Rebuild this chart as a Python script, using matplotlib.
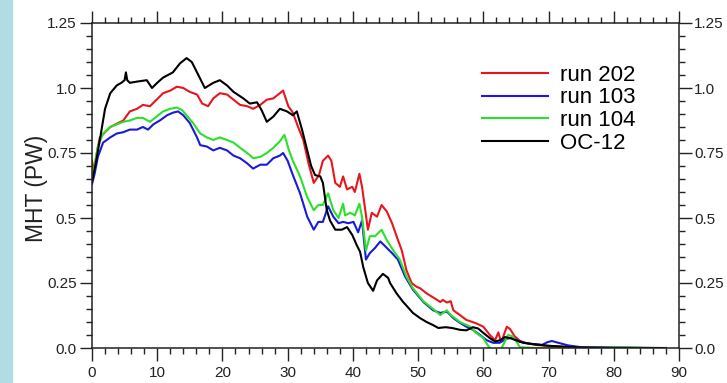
import matplotlib.pyplot as plt
from matplotlib.patches import Rectangle
from matplotlib.ticker import MultipleLocator

plt.rcParams['font.family'] = ['Liberation Sans', 'DejaVu Sans']

# latitude (deg N) and MHT (PW)
lat_202 = [0, 0.3, 0.8, 1.2, 2.8, 4.8, 5.8, 6.9, 7.8, 8.9, 9.9, 10.9, 12.0, 13.0, 14.0, 15.0,
           16.1, 16.9, 17.8, 18.6, 19.6, 20.7, 21.7, 22.7, 23.8, 24.7, 25.8, 26.8, 27.8, 28.8,
           29.3, 30.1, 30.8, 31.6, 32.4, 33.2, 34.0, 34.8, 35.4, 36.2, 36.7, 37.3, 38.0, 38.5,
           39.1, 39.9, 40.3, 41.0, 41.4, 41.9, 42.3, 42.9, 43.7, 44.4, 45.2, 46.0, 46.7, 47.5,
           48.2, 49.0, 49.8, 50.3, 51.3, 52.6, 53.4, 53.8, 54.4, 55.0, 55.4, 56.4, 57.4, 58.9,
           60.0, 61.0, 61.8, 62.3, 62.7, 63.0, 63.6, 64.1, 64.8, 65.6, 66.5, 68, 70, 73, 76, 80, 86]
mht_202 = [0.72, 0.68, 0.76, 0.81, 0.85, 0.875, 0.91, 0.92, 0.935, 0.93, 0.955, 0.98, 0.99, 1.005,
           1.0, 0.985, 0.975, 0.94, 0.93, 0.96, 0.98, 0.975, 0.955, 0.935, 0.93, 0.92, 0.935,
           0.955, 0.96, 0.98, 0.99, 0.93, 0.905, 0.85, 0.80, 0.71, 0.635, 0.665, 0.72, 0.74, 0.72,
           0.635, 0.62, 0.66, 0.61, 0.62, 0.60, 0.67, 0.62, 0.53, 0.455, 0.52, 0.505, 0.55, 0.525,
           0.48, 0.43, 0.375, 0.30, 0.25, 0.235, 0.23, 0.21, 0.19, 0.177, 0.185, 0.175, 0.18,
           0.145, 0.127, 0.108, 0.095, 0.082, 0.05, 0.03, 0.06, 0.025, 0.04, 0.082, 0.073, 0.045,
           0.028, 0.019, 0.012, 0.008, 0.004, 0.001, 0.0, 0.0]

lat_103 = [0, 0.4, 0.9, 1.7, 2.8, 3.8, 4.8, 5.8, 6.9, 7.8, 8.6, 9.4, 10.4, 11.5, 12.4, 13.2, 14.0,
           15.0, 16.1, 16.6, 17.6, 18.6, 19.6, 20.7, 21.7, 22.7, 23.8, 24.7, 25.8, 26.8, 27.8,
           28.8, 29.3, 30.0, 30.8, 31.9, 33.0, 34.0, 34.7, 35.4, 36.2, 37.0, 37.8, 38.5, 39.3,
           40.1, 40.8, 41.4, 42.0, 42.6, 43.4, 44.2, 45.0, 46.0, 46.9, 48.0, 49.2, 50.8, 52.3,
           53.4, 54.4, 55.4, 56.4, 57.4, 58.4, 59.5, 60.5, 61.5, 62.5, 63.5, 64.5, 65.5, 67, 69,
           69.8, 70.5, 71.5, 73, 75, 80, 87]
mht_103 = [0.63, 0.67, 0.735, 0.79, 0.81, 0.825, 0.83, 0.84, 0.84, 0.85, 0.84, 0.86, 0.875, 0.895,
           0.905, 0.91, 0.895, 0.865, 0.81, 0.78, 0.775, 0.76, 0.77, 0.76, 0.74, 0.73, 0.71, 0.69,
           0.705, 0.705, 0.73, 0.74, 0.75, 0.72, 0.665, 0.595, 0.505, 0.455, 0.485, 0.485, 0.545,
           0.505, 0.48, 0.485, 0.48, 0.485, 0.445, 0.49, 0.34, 0.365, 0.385, 0.41, 0.39, 0.365,
           0.34, 0.275, 0.225, 0.177, 0.145, 0.135, 0.14, 0.115, 0.097, 0.082, 0.07, 0.05, 0.03,
           0.02, 0.02, 0.035, 0.04, 0.025, 0.017, 0.012, 0.022, 0.027, 0.02, 0.01, 0.003, 0.001, 0.0]

lat_104 = [0, 0.4, 0.9, 1.7, 2.8, 3.8, 4.8, 5.8, 6.9, 7.8, 8.9, 9.9, 10.9, 12.0, 13.0, 13.8, 14.5,
           15.5, 16.6, 17.6, 18.6, 19.6, 20.7, 21.7, 22.7, 23.8, 24.7, 25.8, 26.8, 27.8, 28.8,
           29.5, 30.2, 30.8, 31.9, 33.0, 34.0, 34.7, 35.4, 36.2, 37.0, 37.8, 38.5, 38.8, 39.6,
           40.3, 41.0, 41.4, 42.0, 42.6, 43.4, 44.4, 45.2, 46.2, 47.2, 48.2, 49.2, 50.8, 52.3,
           53.4, 54.4, 55.0, 56.4, 58.0, 58.9, 60.0, 60.7, 61.3, 62.0, 62.6, 63.3, 63.8, 64.5,
           65.2, 65.6, 68, 75, 82, 86]
mht_104 = [0.66, 0.70, 0.775, 0.825, 0.85, 0.86, 0.87, 0.875, 0.885, 0.885, 0.87, 0.89, 0.91, 0.92,
           0.925, 0.915, 0.895, 0.865, 0.825, 0.81, 0.80, 0.81, 0.80, 0.79, 0.77, 0.75, 0.73,
           0.735, 0.75, 0.77, 0.795, 0.82, 0.76, 0.72, 0.66, 0.58, 0.53, 0.55, 0.55, 0.595, 0.53,
           0.50, 0.555, 0.51, 0.52, 0.51, 0.555, 0.505, 0.375, 0.43, 0.43, 0.455, 0.415, 0.375,
           0.34, 0.275, 0.23, 0.18, 0.15, 0.127, 0.145, 0.127, 0.10, 0.082, 0.058, 0.038, 0.01,
           -0.008, -0.005, -0.01, 0.025, 0.05, 0.045, 0.02, 0.003, 0.0, 0.0, 0.002, 0.0]

lat_oc = [0, 0.5, 1.2, 2.0, 2.8, 3.8, 4.5, 5.0, 5.2, 5.4, 5.8, 7.0, 8.4, 9.2, 10.0, 10.9, 12.4,
          13.5, 14.5, 15.3, 16.3, 17.3, 18.6, 19.6, 20.7, 21.7, 23.2, 24.2, 25.3, 26.0, 26.8,
          27.8, 28.8, 29.9, 30.8, 31.4, 32.2, 33.0, 33.6, 34.2, 35.0, 35.4, 36.0, 36.5, 37.3,
          38.3, 39.1, 39.9, 40.6, 41.1, 41.6, 42.3, 43.1, 43.7, 44.6, 45.4, 45.7, 46.7, 47.7,
          48.5, 49.2, 50.3, 51.3, 52.3, 53.1, 54.2, 55.2, 56.4, 57.4, 58.4, 59.2, 60.0, 61.0,
          61.8, 62.6, 63.3, 64.1, 65.2, 66.1, 67.6, 69.8, 72.3, 74.8, 80, 85, 88]
mht_oc = [0.64, 0.70, 0.80, 0.92, 0.98, 1.01, 1.02, 1.03, 1.06, 1.03, 1.02, 1.025, 1.03, 1.0, 1.02,
          1.04, 1.06, 1.095, 1.115, 1.10, 1.05, 1.0, 1.02, 1.03, 1.01, 0.985, 0.96, 0.94, 0.945,
          0.915, 0.87, 0.89, 0.92, 0.91, 0.895, 0.91, 0.84, 0.76, 0.70, 0.665, 0.66, 0.635, 0.53,
          0.49, 0.455, 0.455, 0.465, 0.435, 0.395, 0.37, 0.31, 0.25, 0.22, 0.26, 0.285, 0.27,
          0.25, 0.21, 0.177, 0.155, 0.135, 0.115, 0.10, 0.088, 0.077, 0.08, 0.077, 0.07, 0.068,
          0.08, 0.075, 0.058, 0.038, 0.025, 0.03, 0.042, 0.038, 0.028, 0.02, 0.015, 0.009, 0.005,
          0.002, 0.001, 0.0, 0.0]

xticks = [0, 10, 20, 30, 40, 50, 60, 70, 80, 90]
yticks = [0.0, 0.25, 0.5, 0.75, 1.0, 1.25]
ytick_labels = ['0.0', '0.25', '0.5', '0.75', '1.0', '1.25']

fig = plt.figure(figsize=(7.27, 3.83), dpi=100)
fig.patches.append(Rectangle((0, 0), 12 / 727, 1, transform=fig.transFigure,
                             color='#b2dce3', zorder=0))
ax = fig.add_axes([92 / 727, 35 / 383, 587 / 727, 325 / 383])

ax.plot(lat_202, mht_202, color='#e8161c', lw=1.5, label='run 202')
ax.plot(lat_103, mht_103, color='#1a1ad8', lw=1.5, label='run 103')
ax.plot(lat_104, mht_104, color='#2be02b', lw=1.5, label='run 104')
ax.plot(lat_oc, mht_oc, color='black', lw=1.5, label='OC-12')

ax.set_xlim(0, 90)
ax.set_ylim(0, 1.25)
ax.set_xticks(xticks)
ax.set_yticks(yticks)
ax.set_yticklabels(ytick_labels)
ax.xaxis.set_minor_locator(MultipleLocator(2))
ax.yaxis.set_minor_locator(MultipleLocator(0.05))
ax.tick_params(which='both', direction='out', top=True, right=True, labelright=True,
               labelsize=11, colors='#222222', width=1.0)
ax.tick_params(which='major', length=9, pad=2)
ax.tick_params(axis='x', which='major', pad=4)
ax.tick_params(which='minor', length=4.5)
for s in ax.spines.values():
    s.set_linewidth(1.1)
    s.set_color('#222222')

ax.set_ylabel('MHT (PW)', fontsize=16.5, color='#222222')
ax.yaxis.set_label_coords(-0.075, 0.49)

ax.legend(loc='upper left', bbox_to_anchor=(0.664, 0.872), frameon=False, fontsize=16,
          handlelength=2.97, handletextpad=0.54, labelspacing=0.08, borderpad=0,
          borderaxespad=0)

plt.savefig('out.png', dpi=100)
